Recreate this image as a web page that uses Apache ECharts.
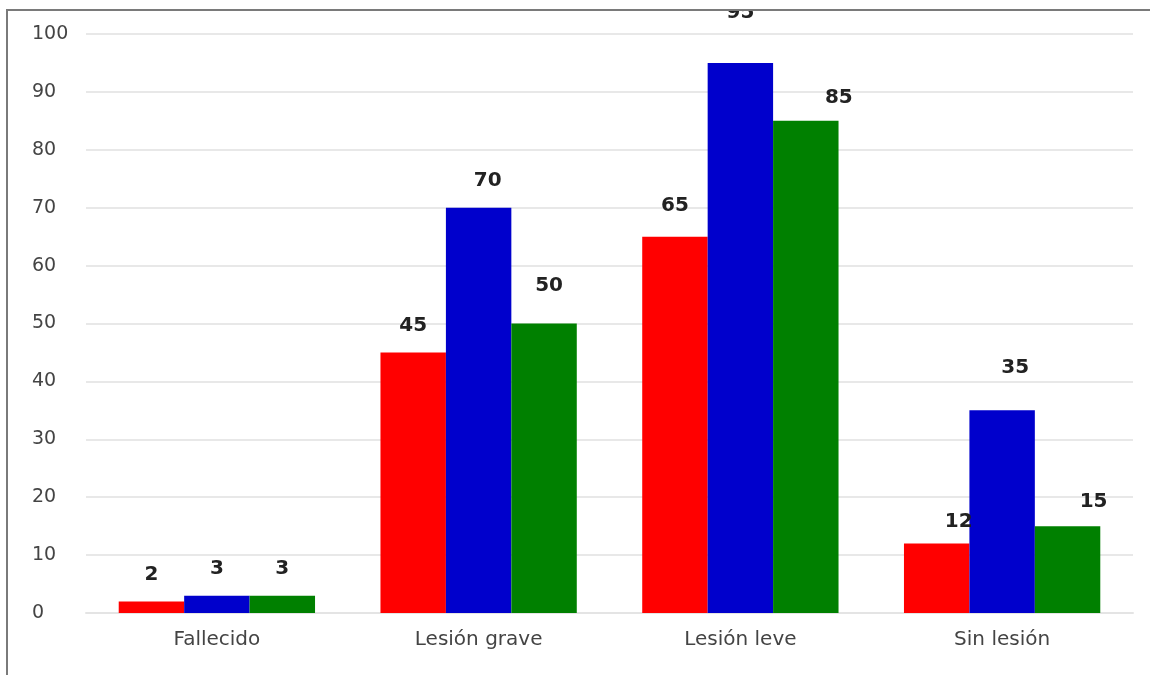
<!DOCTYPE html>
<html>
<head>
<meta charset="utf-8">
<script src="https://cdn.jsdelivr.net/npm/echarts@6/dist/echarts.min.js"></script>
<style>
  html, body { margin: 0; padding: 0; background: #fff; }
  #chart { position: absolute; left: 0; top: 0; width: 1150px; height: 675px; }
  #topmask { position: absolute; left: 0; top: 0; width: 1150px; height: 9px; background: #fff; border-bottom: 2px solid #7a7a7a; z-index: 5; }
  #leftmask { position: absolute; left: 0; top: 9px; width: 6px; height: 666px; background: #fff; border-right: 2px solid #7a7a7a; z-index: 5; }
</style>
</head>
<body>
<div id="chart"></div>
<div id="topmask"></div>
<div id="leftmask"></div>
<script>
const categories = ['Fallecido', 'Lesión grave', 'Lesión leve', 'Sin lesión'];
const seriesNames = ['Serie 1', 'Serie 2', 'Serie 3'];
const redValues = [2, 45, 65, 12];
const blueValues = [3, 70, 95, 35];
const greenValues = [3, 50, 85, 15];
const yTicks = [0, 10, 20, 30, 40, 50, 60, 70, 80, 90, 100];

// style: small label nudges (series index, category index, dx, dy) as in the reference
const labelNudges = [
  [1, 1, 9, 0], [2, 1, 5, -11],
  [0, 2, 0, -4], [1, 2, 0, -23], [2, 2, 33, 4],
  [0, 3, 22, 5], [1, 3, 13, -16], [2, 3, 26, 3]
];

const colors = ['#ff0000', '#0000cc', '#008000'];
const allValues = [redValues, blueValues, greenValues];
const FONT = 'DejaVu Sans, Liberation Sans, Arial, sans-serif';

const chart = echarts.init(document.getElementById('chart'));
const labelStyle = {
  show: true,
  position: 'top',
  distance: 17,
  fontFamily: FONT,
  fontSize: 20,
  fontWeight: 'bold',
  color: '#222'
};

function buildData(vals, si) {
  return vals.map((v, ci) => {
    const n = labelNudges.find(e => e[0] === si && e[1] === ci);
    return n ? { value: v, label: { offset: [n[2], n[3]] } } : v;
  });
}

chart.setOption({
  animation: false,
  grid: { left: 86, right: 17, top: 34, bottom: 62, containLabel: false },
  xAxis: {
    type: 'category',
    data: categories,
    axisLine: { show: true, lineStyle: { color: '#e4e4e4', width: 2 } },
    axisTick: { show: false },
    axisLabel: {
      margin: 17,
      fontFamily: FONT,
      fontSize: 20,
      color: '#444'
    }
  },
  yAxis: {
    type: 'value',
    min: yTicks[0],
    max: yTicks[yTicks.length - 1],
    interval: yTicks[1] - yTicks[0],
    axisLine: { show: false },
    axisTick: { show: false },
    splitLine: { lineStyle: { color: '#e8e8e8', width: 2 } },
    axisLabel: {
      align: 'left',
      margin: 54,
      fontFamily: FONT,
      fontSize: 19,
      color: '#444'
    }
  },
  series: allValues.map((vals, i) => ({
    name: seriesNames[i],
    type: 'bar',
    data: buildData(vals, i),
    barGap: '0%',
    barCategoryGap: '25%',
    itemStyle: { color: colors[i] },
    label: labelStyle
  }))
});
</script>
</body>
</html>
